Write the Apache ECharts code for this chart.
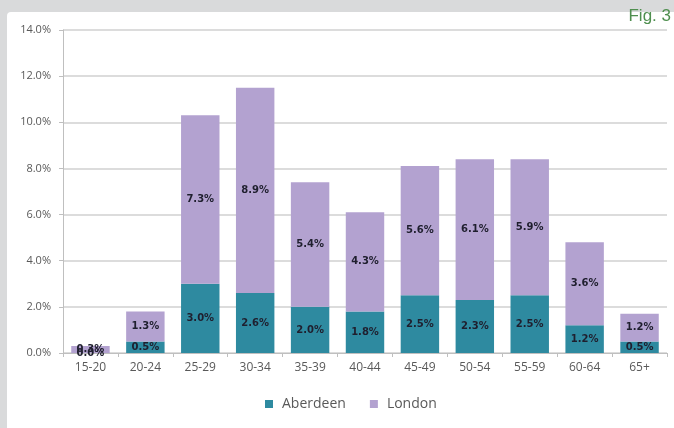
<!DOCTYPE html>
<html>
<head>
<meta charset="utf-8">
<script src="https://cdn.jsdelivr.net/npm/echarts@6/dist/echarts.min.js"></script>
<style>
  html, body { margin: 0; padding: 0; background: #d9dadb; }
  #frame { position: absolute; left: 7px; top: 12px; width: 667px; height: 416px; background: #ffffff; border-top-left-radius: 4px; }
  #chart { position: absolute; left: 0; top: 0; width: 674px; height: 428px; }
</style>
</head>
<body>
<div id="frame"></div>
<div id="chart"></div>
<script>
// Age bands on the category axis
const ageBands = ['15-20', '20-24', '25-29', '30-34', '35-39', '40-44', '45-49', '50-54', '55-59', '60-64', '65+'];
// Share of population (%) per age band
const aberdeen = [0.0, 0.5, 3.0, 2.6, 2.0, 1.8, 2.5, 2.3, 2.5, 1.2, 0.5];
const london = [0.3, 1.3, 7.3, 8.9, 5.4, 4.3, 5.6, 6.1, 5.9, 3.6, 1.2];
const yTicks = [0, 2, 4, 6, 8, 10, 12, 14];

const chart = echarts.init(document.getElementById('chart'), null, { renderer: 'canvas' });

const pct = v => v.toFixed(1) + '%';
const labelStyle = {
  show: true,
  position: 'inside',
  color: '#1f1f2e',
  fontFamily: 'DejaVu Sans',
  fontWeight: 'bold',
  fontSize: 10,
  formatter: p => pct(p.value)
};

chart.setOption({
  backgroundColor: 'transparent',
  animation: false,
  graphic: [{
    type: 'text',
    right: 3,
    top: 8,
    style: { text: 'Fig. 3', fill: '#4f8f4f', font: '17px "Liberation Sans", Arial, sans-serif' }
  }],
  legend: {
    bottom: 12,
    left: 260,
    itemWidth: 8,
    itemHeight: 8,
    itemGap: 24,
    icon: 'rect',
    textStyle: { color: '#595959', fontSize: 14, fontFamily: 'Open Sans', padding: [0, 0, 0, 4] },
    data: ['Aberdeen', 'London']
  },
  grid: { left: 63, right: 7, top: 30, bottom: 75, containLabel: false },
  xAxis: {
    type: 'category',
    data: ageBands,
    axisLine: { lineStyle: { color: '#bfbfbf' } },
    axisTick: { show: true, length: 4, lineStyle: { color: '#bfbfbf' } },
    axisLabel: { color: '#595959', fontSize: 12, fontFamily: 'Open Sans', margin: 9 }
  },
  yAxis: {
    type: 'value',
    min: yTicks[0],
    max: yTicks[yTicks.length - 1],
    interval: 2,
    axisLine: { show: true, lineStyle: { color: '#bfbfbf' } },
    axisTick: { show: true, length: 4, inside: false, lineStyle: { color: '#bfbfbf' } },
    axisLabel: { color: '#595959', fontSize: 11, fontFamily: 'Open Sans', margin: 12, formatter: v => v.toFixed(1) + '%' },
    splitLine: { lineStyle: { color: '#d0d0d0', width: 1.5 } }
  },
  series: [
    {
      name: 'Aberdeen',
      type: 'bar',
      stack: 'total',
      data: aberdeen,
      barCategoryGap: '30%',
      itemStyle: { color: '#2e8aa0' },
      label: labelStyle
    },
    {
      name: 'London',
      type: 'bar',
      stack: 'total',
      data: london,
      barCategoryGap: '30%',
      itemStyle: { color: '#b3a2d0' },
      label: labelStyle
    }
  ]
});
</script>
</body>
</html>
